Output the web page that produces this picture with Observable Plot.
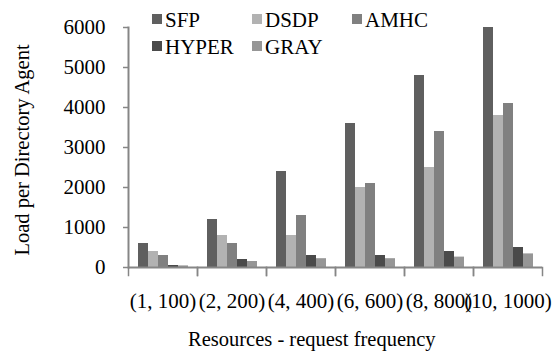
<!DOCTYPE html>
<html>
<head>
<meta charset="utf-8">
<script src="https://cdn.jsdelivr.net/npm/d3@7"></script>
<script src="https://cdn.jsdelivr.net/npm/@observablehq/plot@0.6"></script>
<style>
  body { margin: 0; background: #fff; }
  #wrap { position: relative; width: 552px; height: 351px; font-family: 'Liberation Serif', 'Times New Roman', serif; color: #000; }
  #wrap svg { position: absolute; left: 0; top: 0; }
  #wrap svg text { font-family: 'Liberation Serif', 'Times New Roman', serif; }
  .lab { position: absolute; white-space: nowrap; line-height: 21px; font-size: 21px; }
  .sw { position: absolute; width: 10px; height: 10px; }
</style>
</head>
<body>
<div id="wrap"></div>
<script>
const categories = ["(1, 100)", "(2, 200)", "(4, 400)", "(6, 600)", "(8, 800)", "(10, 1000)"];
const series = ["SFP", "DSDP", "AMHC", "HYPER", "GRAY"];
const SFP   = [600, 1200, 2400, 3600, 4800, 6000];
const DSDP  = [400, 800, 800, 2000, 2500, 3800];
const AMHC  = [300, 600, 1300, 2100, 3400, 4100];
const HYPER = [50, 200, 300, 300, 400, 500];
const GRAY  = [40, 150, 220, 220, 260, 340];
const yTicks = [0, 1000, 2000, 3000, 4000, 5000, 6000];
const colors = ["#5f5f5f", "#b2b2b2", "#808080", "#4a4a4a", "#969696"];
const xTitle = "Resources - request frequency";
const yTitle = "Load per Directory Agent";

const valuesBySeries = {SFP, DSDP, AMHC, HYPER, GRAY};
const data = [];
categories.forEach((c, i) => series.forEach(s => data.push({cat: c, series: s, value: valuesBySeries[s][i]})));

const axisColor = "#868686";
const chart = Plot.plot({
  width: 552,
  height: 351,
  marginLeft: 127,
  marginRight: 10,
  marginTop: 27,
  marginBottom: 84,
  style: {fontFamily: "'Liberation Serif', 'Times New Roman', serif", fontSize: "21px", color: "#000", background: "transparent"},
  fx: {domain: categories, padding: 0},
  x: {domain: series, paddingInner: 0, paddingOuter: 0.77, axis: null},
  y: {domain: [0, 6000], axis: null},
  color: {domain: series, range: colors},
  marks: [
    Plot.barY(data, {fx: "cat", x: "series", y: "value", fill: "series"}),
    Plot.ruleY([0], {stroke: axisColor, strokeWidth: 2}),
    Plot.frame({anchor: "left", facetAnchor: "left", stroke: axisColor, strokeWidth: 2}),
    Plot.frame({anchor: "left", stroke: axisColor, strokeWidth: 1.5, insetTop: 240, insetBottom: -8}),
    Plot.frame({anchor: "right", stroke: axisColor, strokeWidth: 1.5, insetTop: 240, insetBottom: -8}),
    Plot.axisY(yTicks, {anchor: "left", tickSize: 5, tickPadding: 18, stroke: axisColor, strokeWidth: 1.5, fill: "#000", label: null, tickFormat: d => String(d)}),
    Plot.axisFx({anchor: "bottom", tickSize: 0, tickPadding: 26, fill: "#000", label: null})
  ]
});

const wrap = document.getElementById("wrap");
wrap.appendChild(chart);

// Legend (inside the plot area, top)
const legendPos = [[152, 14], [252, 14], [352, 14], [152, 41], [252, 41]];
series.forEach((s, i) => {
  const [lx, ly] = legendPos[i];
  const sw = document.createElement("div");
  sw.className = "sw";
  sw.style.left = lx + "px"; sw.style.top = ly + "px"; sw.style.background = colors[i];
  wrap.appendChild(sw);
  const t = document.createElement("div");
  t.className = "lab";
  t.textContent = s;
  t.style.left = (lx + 13) + "px"; t.style.top = (ly - 4) + "px";
  wrap.appendChild(t);
});

// Axis titles
const xt = document.createElement("div");
xt.className = "lab";
xt.style.fontSize = "20.5px";
xt.textContent = xTitle;
xt.style.left = "188px"; xt.style.top = "329px";
wrap.appendChild(xt);

const yt = document.createElement("div");
yt.className = "lab";
yt.style.fontSize = "20.5px";
yt.textContent = yTitle;
yt.style.left = "22px"; yt.style.top = "150px";
yt.style.transform = "translate(-50%, -50%) rotate(-90deg)";
wrap.appendChild(yt);
</script>
</body>
</html>
